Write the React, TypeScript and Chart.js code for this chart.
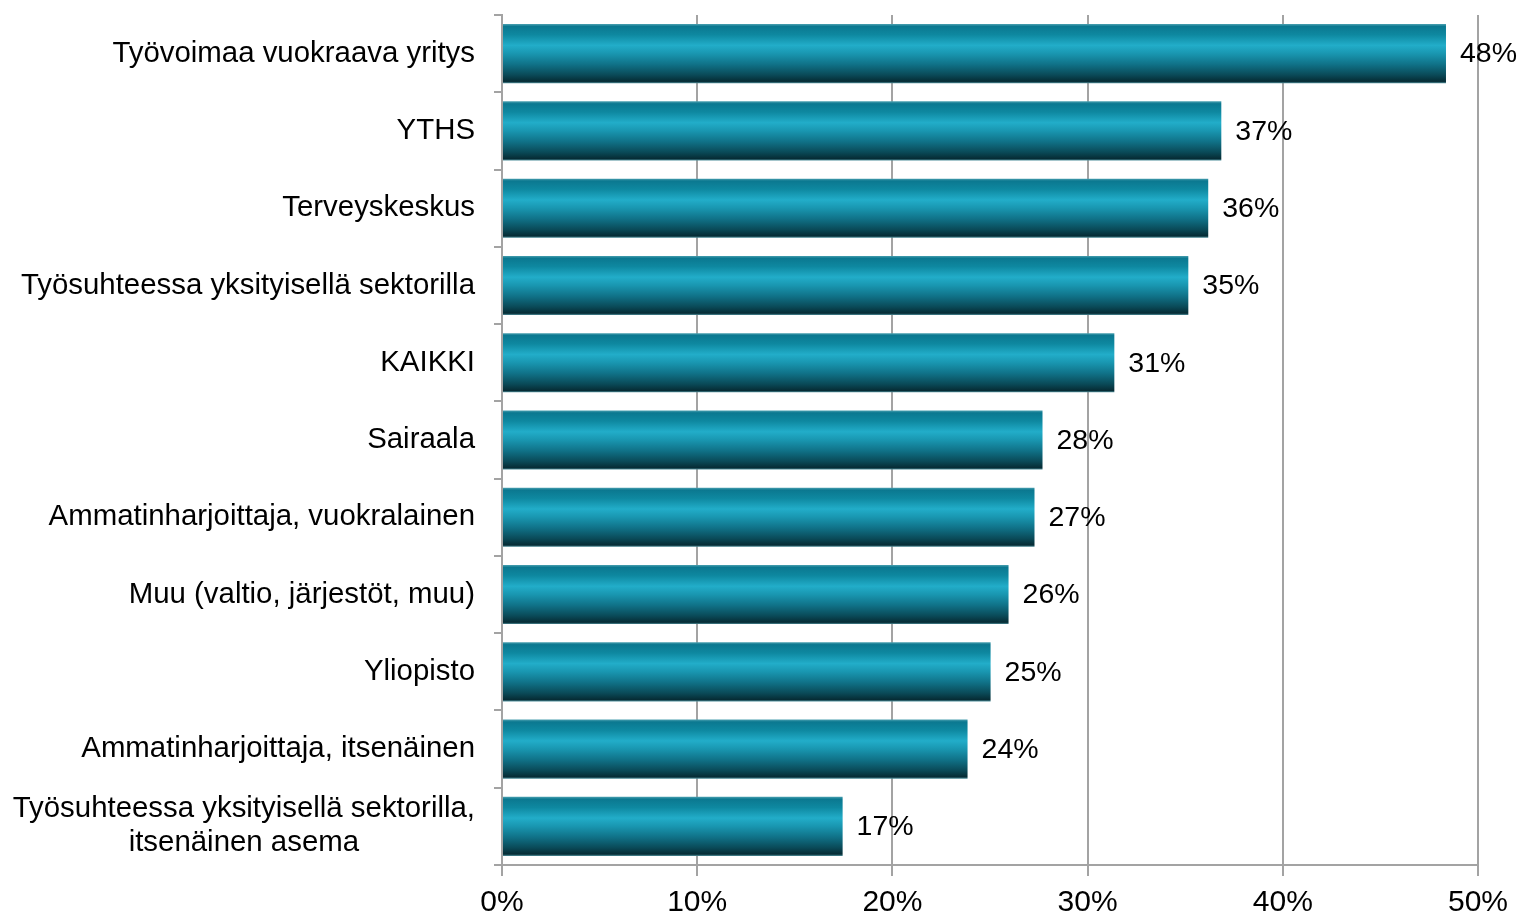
import React, { useEffect, useRef } from "react";
import { Chart, registerables } from "chart.js";

Chart.register(...registerables);

const categories: string[][] = [
  ["Työvoimaa vuokraava yritys"],
  ["YTHS"],
  ["Terveyskeskus"],
  ["Työsuhteessa yksityisellä sektorilla"],
  ["KAIKKI"],
  ["Sairaala"],
  ["Ammatinharjoittaja, vuokralainen"],
  ["Muu (valtio, järjestöt, muu)"],
  ["Yliopisto"],
  ["Ammatinharjoittaja, itsenäinen"],
  ["Työsuhteessa yksityisellä sektorilla,", "itsenäinen asema"],
];

const values: number[] = [48.36, 36.85, 36.18, 35.16, 31.37, 27.69, 27.28, 25.95, 25.03, 23.85, 17.45];

const valueLabels: string[] = ["48%", "37%", "36%", "35%", "31%", "28%", "27%", "26%", "25%", "24%", "17%"];

const xTicks: number[] = [0, 10, 20, 30, 40, 50];

const FONT = "'Liberation Sans', Arial, sans-serif";
const GRID = "#a3a3a3";
const BAR_PCT = 0.765;

const labelPlugin = {
  id: "customLabels",
  afterDraw(chart: any) {
    const ctx = chart.ctx;
    const y = chart.scales.y;
    const x = chart.scales.x;
    ctx.save();
    ctx.fillStyle = "#000";
    ctx.textBaseline = "middle";
    // category labels
    ctx.font = `29.4px ${FONT}`;
    const rightX = 475;
    const lh = 34;
    categories.forEach((lines, i) => {
      const cy = y.getPixelForValue(i);
      if (lines.length === 1) {
        ctx.textAlign = "right";
        ctx.fillText(lines[0], rightX, cy);
      } else {
        const w = Math.max(...lines.map((l) => ctx.measureText(l).width));
        ctx.textAlign = "center";
        lines.forEach((l, k) => {
          ctx.fillText(l, rightX - w / 2, cy - ((lines.length - 1) * lh) / 2 + k * lh);
        });
      }
    });
    // value labels
    ctx.font = `28.5px ${FONT}`;
    ctx.textAlign = "left";
    const meta = chart.getDatasetMeta(0);
    meta.data.forEach((el: any, i: number) => {
      ctx.fillText(valueLabels[i], x.getPixelForValue(values[i]) + 14, el.y + 1);
    });
    ctx.restore();
  },
};

function barGradient(context: any) {
  const chart = context.chart;
  const ys = chart.scales && chart.scales.y;
  if (!ys || !chart.chartArea || context.dataIndex === undefined) return "#1895ae";
  const cy = ys.getPixelForValue(context.dataIndex);
  const band = (ys.bottom - ys.top) / categories.length;
  const half = (band * BAR_PCT) / 2;
  const g = chart.ctx.createLinearGradient(0, cy - half, 0, cy + half);
  g.addColorStop(0, "#4aa0b0");
  g.addColorStop(0.04, "#0b7890");
  g.addColorStop(0.18, "#0e88a0");
  g.addColorStop(0.36, "#22adc9");
  g.addColorStop(0.5, "#1996b0");
  g.addColorStop(0.68, "#107288");
  g.addColorStop(0.86, "#0a4a58");
  g.addColorStop(0.97, "#062c35");
  g.addColorStop(1, "#4d8d99");
  return g;
}

export default function App() {
  const ref = useRef<HTMLCanvasElement>(null);
  useEffect(() => {
    if (!ref.current) return;
    const chart = new Chart(ref.current, {
      type: "bar",
      data: {
        labels: categories.map((c) => c.join(" ")),
        datasets: [
          {
            data: values,
            backgroundColor: barGradient,
            borderWidth: 0,
            barPercentage: BAR_PCT,
            categoryPercentage: 1,
          },
        ],
      },
      options: {
        indexAxis: "y",
        animation: false,
        responsive: true,
        maintainAspectRatio: false,
        layout: { padding: { top: 15, right: 44, left: 0, bottom: 0 } },
        plugins: { legend: { display: false }, tooltip: { enabled: false } },
        scales: {
          x: {
            min: 0,
            max: 50,
            afterFit(scale: any) {
              scale.height = 50;
            },
            afterBuildTicks(scale: any) {
              scale.ticks = xTicks.map((v) => ({ value: v }));
            },
            ticks: {
              callback: (v: any) => `${v}%`,
              color: "#000",
              font: { size: 30, family: FONT },
              padding: 9,
              maxRotation: 0,
            },
            grid: {
              color: GRID,
              lineWidth: 2,
              tickLength: 11,
              tickColor: GRID,
              drawTicks: true,
            },
            border: { display: true, color: GRID, width: 2 },
          },
          y: {
            afterFit(scale: any) {
              scale.width = 502;
              scale.paddingTop = 0;
              scale.paddingBottom = 0;
            },
            ticks: { color: "rgba(0,0,0,0)", font: { size: 1, family: FONT } },
            grid: {
              offset: true,
              drawOnChartArea: false,
              drawTicks: true,
              tickLength: 8,
              tickColor: GRID,
              lineWidth: 2,
            },
            border: { display: true, color: GRID, width: 2 },
          },
        },
      },
      plugins: [labelPlugin],
    } as any);
    return () => chart.destroy();
  }, []);
  return (
    <div style={{ position: "fixed", left: 0, top: 0, width: 1522, height: 915, background: "#fff" }}>
      <canvas ref={ref} />
    </div>
  );
}
